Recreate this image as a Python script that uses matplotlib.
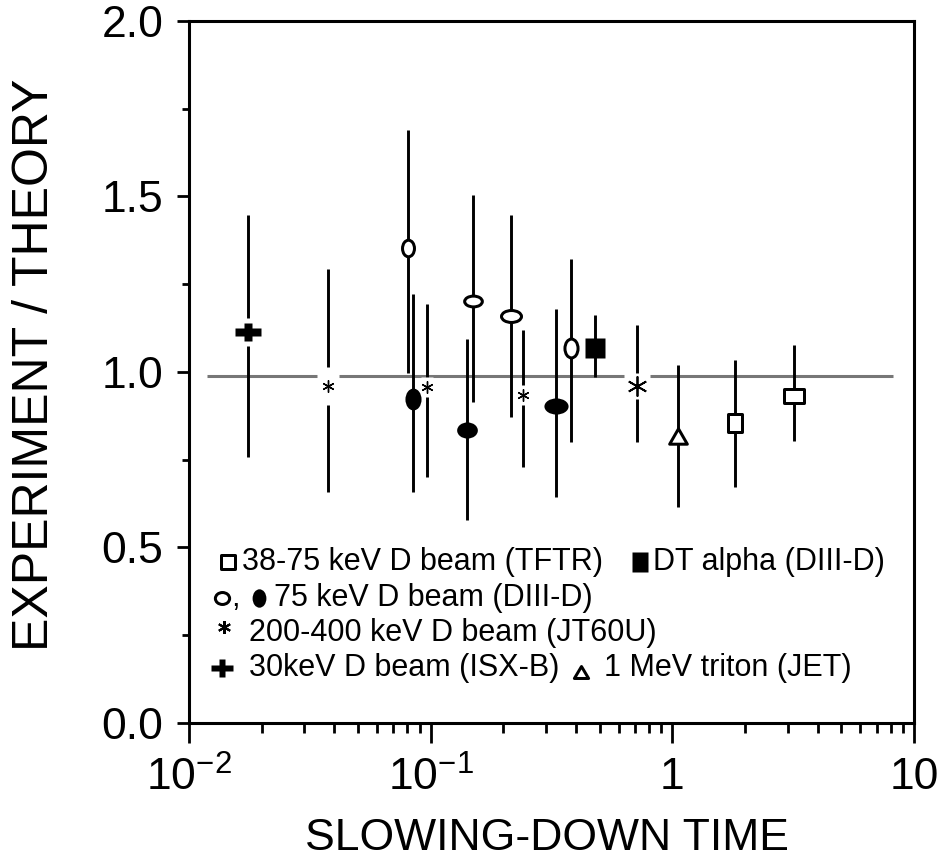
import matplotlib
matplotlib.use('Agg')
import matplotlib.pyplot as plt
from matplotlib.path import Path
from matplotlib.ticker import FixedLocator, NullFormatter

plt.rcParams['font.family'] = ['Liberation Sans', 'DejaVu Sans']
plt.rcParams['mathtext.fontset'] = 'custom'
plt.rcParams['mathtext.rm'] = 'Liberation Sans'
plt.rcParams['mathtext.it'] = 'Liberation Sans'
plt.rcParams['mathtext.bf'] = 'Liberation Sans:bold'

# data: slowing-down time, experiment/theory, error range
tftr_x = [1.82, 3.19]
tftr_y = [0.855, 0.932]
tftr_lo = [0.672, 0.803]
tftr_hi = [1.034, 1.077]

d3d_open_x = [0.0804, 0.149, 0.214, 0.379]
d3d_open_y = [1.353, 1.202, 1.16, 1.068]
d3d_open_lo = [0.997, 0.915, 0.872, 0.80]
d3d_open_hi = [1.69, 1.504, 1.447, 1.322]

d3d_fill_x = [0.0843, 0.142, 0.329]
d3d_fill_y = [0.923, 0.835, 0.903]
d3d_fill_lo = [0.658, 0.578, 0.644]
d3d_fill_hi = [1.222, 1.094, 1.18]

jt60u_x = [0.0375, 0.097, 0.242, 0.717]
jt60u_y = [0.96, 0.957, 0.934, 0.96]
jt60u_lo = [0.658, 0.70, 0.729, 0.80]
jt60u_hi = [1.293, 1.194, 1.12, 1.134]

isx_x = [0.0175]
isx_y = [1.114]
isx_lo = [0.758]
isx_hi = [1.447]

jet_x = [1.06]
jet_y = [0.818]
jet_lo = [0.615]
jet_hi = [1.02]

dt_x = [0.48]
dt_y = [1.068]
dt_lo = [0.986]
dt_hi = [1.162]

ref_y = 0.988
ref_x0, ref_x1 = 0.0119, 8.2

x_ticks = [0.01, 0.1, 1, 10]
x_ticklabels = [r'$\mathregular{10^{-2}}$', r'$\mathregular{10^{-1}}$', '1', '10']
y_ticks = [0.0, 0.5, 1.0, 1.5, 2.0]
y_ticklabels = ['0.0', '0.5', '1.0', '1.5', '2.0']

PX = 0.72  # points per pixel at dpi 100
GROW = 1.15


def ellipse(w, h):
    c = Path.unit_circle()
    return Path(c.vertices * [w, h], c.codes)


def box(w, h):
    return Path([(-w, -h), (w, -h), (w, h), (-w, h), (-w, -h)],
                [Path.MOVETO, Path.LINETO, Path.LINETO, Path.LINETO, Path.CLOSEPOLY])


def tri(w, h):
    return Path([(0, h), (-w, -h), (w, -h), (0, h)],
                [Path.MOVETO, Path.LINETO, Path.LINETO, Path.CLOSEPOLY])


def plus(w, h):
    t = 0.29 * w
    verts = [(-w, -t), (-t, -t), (-t, -h), (t, -h), (t, -t), (w, -t), (w, t),
             (t, t), (t, h), (-t, h), (-t, t), (-w, t), (-w, -t)]
    return Path(verts, [Path.MOVETO] + [Path.LINETO] * 11 + [Path.CLOSEPOLY])


def mark(ax, x, y, shape, w, h, filled, lw=3, color='black', z=4, **kw):
    # w, h are the outer sizes in pixels
    w, h = w * GROW, h * GROW
    if filled:
        ms = max(w, h) * PX
        ax.plot([x], [y], ls='none', marker=shape(w, h), ms=ms, mfc=color,
                mec='none', zorder=z, **kw)
    else:
        wi, hi = w - lw, h - lw
        ax.plot([x], [y], ls='none', marker=shape(wi, hi), ms=max(wi, hi) * PX,
                mfc='white', mec=color, mew=lw * PX, zorder=z, **kw)


def star(ax, x, y, size, lw, **kw):
    ax.plot([x], [y], ls='none', marker=(6, 2, 0), ms=size * PX, mec='black',
            mew=lw, zorder=5, **kw)


fig = plt.figure(figsize=(9.45, 8.64), dpi=100)
ax = fig.add_axes([0.2, 0.1632, 0.7672, 0.8125])
ax.set_xscale('log')
ax.set_xlim(0.01, 10)
ax.set_ylim(0, 2)

ax.hlines(ref_y, ref_x0, ref_x1, colors='#777777', lw=2.2, zorder=1)

for xs, lo, hi in [(tftr_x, tftr_lo, tftr_hi), (d3d_open_x, d3d_open_lo, d3d_open_hi),
                   (d3d_fill_x, d3d_fill_lo, d3d_fill_hi), (jt60u_x, jt60u_lo, jt60u_hi),
                   (isx_x, isx_lo, isx_hi), (jet_x, jet_lo, jet_hi), (dt_x, dt_lo, dt_hi)]:
    ax.vlines(xs, lo, hi, colors='black', lw=2.1, zorder=2)

# marker outlines (pixels)
tftr_shape = [(15, 18), (20, 14)]
d3d_open_shape = [(13, 17), (18, 12), (20, 13), (14, 19)]
d3d_fill_shape = [(14, 19), (18, 14), (21, 14)]
jt60u_gap = [(19, 33), (11, 17), (11, 18), (23, 23)]
jt60u_size = [12, 12, 12, 20]

for x, y, (w, h) in zip(tftr_x, tftr_y, tftr_shape):
    mark(ax, x, y, box, w, h, False)
for x, y, (w, h) in zip(d3d_open_x, d3d_open_y, d3d_open_shape):
    mark(ax, x, y, ellipse, w, h, False)
for x, y, (w, h) in zip(d3d_fill_x, d3d_fill_y, d3d_fill_shape):
    mark(ax, x, y, ellipse, w, h, True)
for x, y, (w, h), s in zip(jt60u_x, jt60u_y, jt60u_gap, jt60u_size):
    mark(ax, x, y, box, w, h, True, color='white', z=3)
    star(ax, x, y, s, 1.3 if s > 15 else 1.0)
for x, y in zip(isx_x, isx_y):
    mark(ax, x, y, box, 23, 24, True, color='white', z=3)
    mark(ax, x, y, plus, 22, 15, True)
for x, y in zip(jet_x, jet_y):
    mark(ax, x, y, tri, 18, 16, False)
for x, y in zip(dt_x, dt_y):
    mark(ax, x, y, box, 18, 18, True)

# legend built by hand (axes fraction from pixel layout)
def fx(px):
    return (px - 189) / 725.0


def fy(py):
    return (723 - py) / 702.0


lfs = 22
tr = dict(transform=ax.transAxes, clip_on=False)
rows = [562, 598, 633, 668]
mark(ax, fx(228), fy(rows[0]), box, 15, 15, False, lw=3, **tr)
ax.text(fx(242), fy(rows[0]), '38-75 keV D beam (TFTR)', fontsize=lfs, va='center', transform=ax.transAxes)
mark(ax, fx(640), fy(rows[0]), box, 14, 17, True, **tr)
ax.text(fx(653), fy(rows[0]), 'DT alpha (DIII-D)', fontsize=lfs, va='center', transform=ax.transAxes)

mark(ax, fx(222), fy(rows[1]), ellipse, 15, 13, False, lw=3, **tr)
ax.text(fx(231), fy(rows[1]), ',', fontsize=lfs, va='center', transform=ax.transAxes)
mark(ax, fx(259), fy(rows[1]), ellipse, 12, 16, True, **tr)
ax.text(fx(274), fy(rows[1]), '75 keV D beam (DIII-D)', fontsize=lfs, va='center', transform=ax.transAxes)

star(ax, fx(224), fy(rows[2] - 6), 13, 1.5, **tr)
ax.text(fx(249), fy(rows[2]), '200-400 keV D beam (JT60U)', fontsize=lfs, va='center', transform=ax.transAxes)

mark(ax, fx(222), fy(rows[3]), plus, 19, 15, True, **tr)
ax.text(fx(249), fy(rows[3]), '30keV D beam (ISX-B)', fontsize=lfs, va='center', transform=ax.transAxes)
mark(ax, fx(581), fy(rows[3] + 4), tri, 15, 13, False, lw=3, **tr)
ax.text(fx(604), fy(rows[3]), '1 MeV triton (JET)', fontsize=lfs, va='center', transform=ax.transAxes)

# axes styling
for sp in ax.spines.values():
    sp.set_linewidth(2.2)
ax.xaxis.set_major_locator(FixedLocator(x_ticks))
ax.set_xticklabels(x_ticklabels)
ax.xaxis.set_minor_locator(FixedLocator([m * 10.0 ** e for e in (-2, -1, 0) for m in range(2, 10)]))
ax.xaxis.set_minor_formatter(NullFormatter())
ax.set_yticks(y_ticks)
ax.set_yticklabels(y_ticklabels)
ax.yaxis.set_minor_locator(FixedLocator([0.25, 0.75, 1.25, 1.75]))
ax.tick_params(axis='x', which='major', direction='out', length=14.4, width=2, labelsize=32, pad=10)
ax.tick_params(axis='x', which='minor', direction='out', length=7.2, width=2)
ax.tick_params(axis='y', which='major', direction='out', length=8.6, width=2, labelsize=32, pad=10)
ax.tick_params(axis='y', which='minor', direction='out', length=5, width=2)

ax.set_xlabel('SLOWING-DOWN TIME', fontsize=32)
ax.xaxis.set_label_coords(0.494, -0.135)
ax.set_ylabel('EXPERIMENT / THEORY', fontsize=36)
ax.yaxis.set_label_coords(-0.181, 0.51)

fig.savefig('out.png', dpi=100)
